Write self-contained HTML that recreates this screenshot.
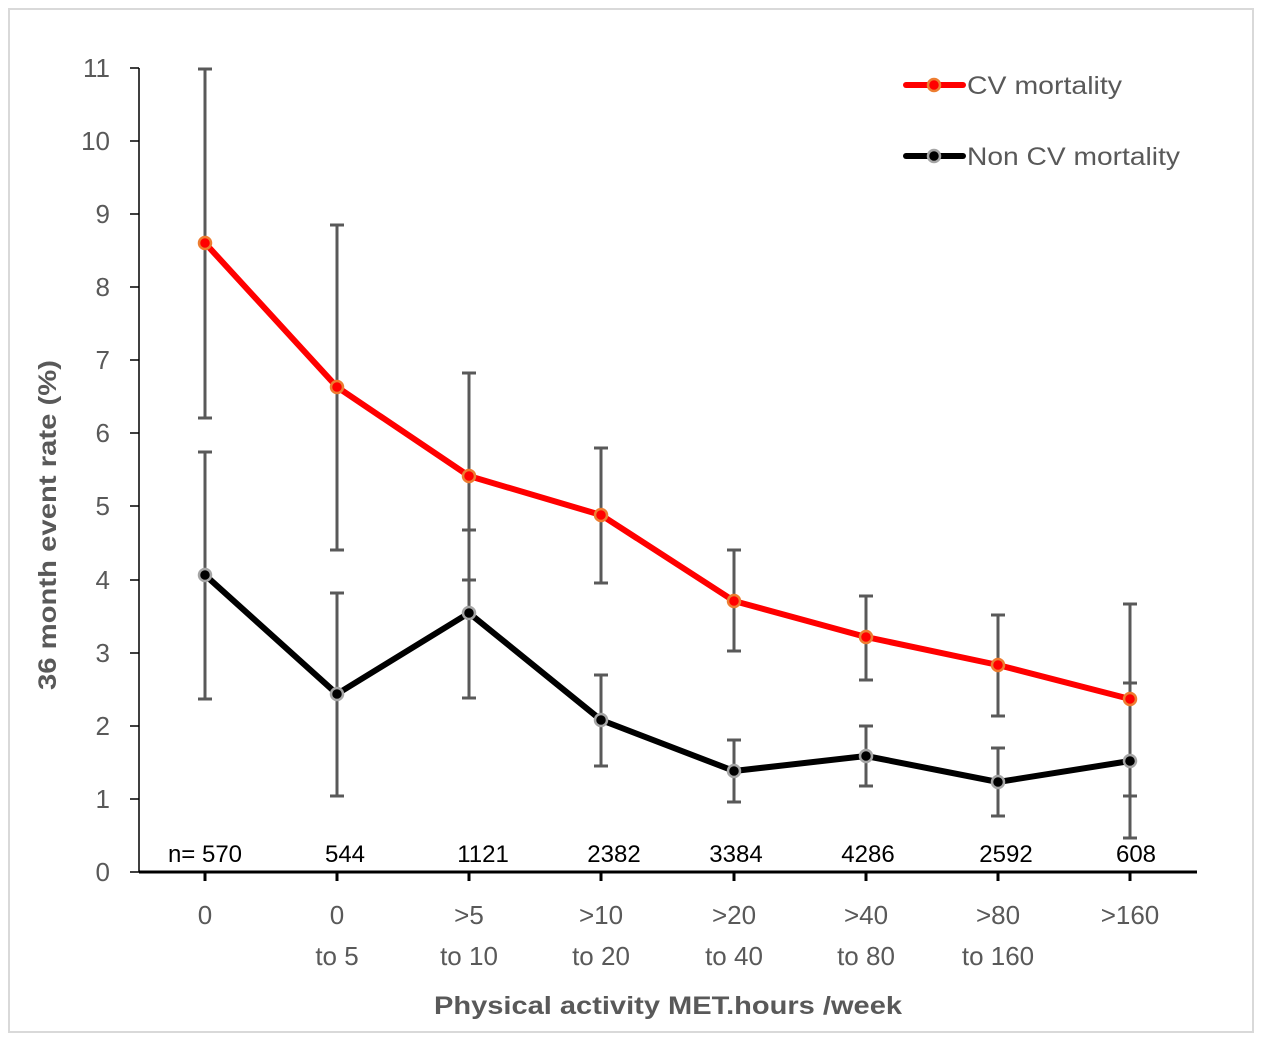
<!DOCTYPE html>
<html><head><meta charset="utf-8"><style>body{margin:0;background:#fff}svg{display:block}text{font-family:"Liberation Sans",sans-serif}</style></head>
<body>
<svg width="1263" height="1043" viewBox="0 0 1263 1043" xmlns="http://www.w3.org/2000/svg">
<rect x="9" y="9" width="1244" height="1023" fill="#fff" stroke="#d9d9d9" stroke-width="2"/>
<g stroke="#000" stroke-width="1.5">
<line x1="139" y1="68" x2="139" y2="872"/>
<line x1="130" y1="68" x2="139" y2="68"/><line x1="130" y1="141" x2="139" y2="141"/><line x1="130" y1="214" x2="139" y2="214"/><line x1="130" y1="287" x2="139" y2="287"/><line x1="130" y1="360" x2="139" y2="360"/><line x1="130" y1="433" x2="139" y2="433"/><line x1="130" y1="506" x2="139" y2="506"/><line x1="130" y1="580" x2="139" y2="580"/><line x1="130" y1="653" x2="139" y2="653"/><line x1="130" y1="726" x2="139" y2="726"/><line x1="130" y1="799" x2="139" y2="799"/><line x1="130" y1="872" x2="139" y2="872"/>
</g>
<line x1="139" y1="872" x2="1197" y2="872" stroke="#000" stroke-width="3"/>
<g stroke="#000" stroke-width="3">
<line x1="205" y1="872" x2="205" y2="881"/><line x1="337" y1="872" x2="337" y2="881"/><line x1="469" y1="872" x2="469" y2="881"/><line x1="601" y1="872" x2="601" y2="881"/><line x1="734" y1="872" x2="734" y2="881"/><line x1="866" y1="872" x2="866" y2="881"/><line x1="998" y1="872" x2="998" y2="881"/><line x1="1130" y1="872" x2="1130" y2="881"/>
</g>
<g fill="#595959" font-size="26" text-anchor="end">
<text x="110" y="77">11</text><text x="110" y="150">10</text><text x="110" y="223">9</text><text x="110" y="296">8</text><text x="110" y="369">7</text><text x="110" y="442">6</text><text x="110" y="515">5</text><text x="110" y="589">4</text><text x="110" y="662">3</text><text x="110" y="735">2</text><text x="110" y="808">1</text><text x="110" y="881">0</text>
</g>
<text transform="translate(56,525) rotate(-90)" fill="#595959" font-size="25" font-weight="bold" text-anchor="middle" textLength="330" lengthAdjust="spacingAndGlyphs">36 month event rate (%)</text>
<g fill="#595959" font-size="26" text-anchor="middle">
<text x="205" y="924">0</text>
<text x="337" y="924">0</text><text x="337" y="965">to 5</text>
<text x="469" y="924">&gt;5</text><text x="469" y="965">to 10</text>
<text x="601" y="924">&gt;10</text><text x="601" y="965">to 20</text>
<text x="734" y="924">&gt;20</text><text x="734" y="965">to 40</text>
<text x="866" y="924">&gt;40</text><text x="866" y="965">to 80</text>
<text x="998" y="924">&gt;80</text><text x="998" y="965">to 160</text>
<text x="1130" y="924">&gt;160</text>
</g>
<text x="668" y="1014" fill="#595959" font-size="25" font-weight="bold" text-anchor="middle" textLength="468" lengthAdjust="spacingAndGlyphs">Physical activity MET.hours /week</text>
<g fill="#000" font-size="24" text-anchor="middle">
<text x="205" y="862">n= 570</text><text x="345" y="862">544</text><text x="483" y="862">1121</text><text x="614" y="862">2382</text><text x="736" y="862">3384</text><text x="868" y="862">4286</text><text x="1006" y="862">2592</text><text x="1136" y="862">608</text>
</g>
<g stroke="#595959" stroke-width="3" fill="none">
<path d="M205 69V418M198 69H212M198 418H212"/>
<path d="M337 225V550M330 225H344M330 550H344"/>
<path d="M469 373V580M462 373H476M462 580H476"/>
<path d="M601 448V583M594 448H608M594 583H608"/>
<path d="M734 550V651M727 550H741M727 651H741"/>
<path d="M866 596V680M859 596H873M859 680H873"/>
<path d="M998 615V716M991 615H1005M991 716H1005"/>
<path d="M1130 604V796M1123 604H1137M1123 796H1137"/>
<path d="M205 452V699M198 452H212M198 699H212"/>
<path d="M337 593V796M330 593H344M330 796H344"/>
<path d="M469 530V698M462 530H476M462 698H476"/>
<path d="M601 675V766M594 675H608M594 766H608"/>
<path d="M734 740V802M727 740H741M727 802H741"/>
<path d="M866 726V786M859 726H873M859 786H873"/>
<path d="M998 748V816M991 748H1005M991 816H1005"/>
<path d="M1130 683V838M1123 683H1137M1123 838H1137"/>
</g>
<polyline points="205,243 337,387 469,476 601,515 734,601 866,637 998,665 1130,699" fill="none" stroke="#ff0000" stroke-width="6" stroke-linejoin="round"/>
<polyline points="205,575 337,694 469,613 601,720 734,771 866,756 998,782 1130,761" fill="none" stroke="#000" stroke-width="6" stroke-linejoin="round"/>
<g fill="#ff0000" stroke="#ed7d31" stroke-width="2.5">
<circle cx="205" cy="243" r="6"/><circle cx="337" cy="387" r="6"/><circle cx="469" cy="476" r="6"/><circle cx="601" cy="515" r="6"/><circle cx="734" cy="601" r="6"/><circle cx="866" cy="637" r="6"/><circle cx="998" cy="665" r="6"/><circle cx="1130" cy="699" r="6"/>
</g>
<g fill="#000" stroke="#a5a5a5" stroke-width="2.5">
<circle cx="205" cy="575" r="6"/><circle cx="337" cy="694" r="6"/><circle cx="469" cy="613" r="6"/><circle cx="601" cy="720" r="6"/><circle cx="734" cy="771" r="6"/><circle cx="866" cy="756" r="6"/><circle cx="998" cy="782" r="6"/><circle cx="1130" cy="761" r="6"/>
</g>
<line x1="906" y1="85" x2="963" y2="85" stroke="#ff0000" stroke-width="6" stroke-linecap="round"/>
<circle cx="934" cy="85" r="6" fill="#ff0000" stroke="#ed7d31" stroke-width="2.5"/>
<text x="967" y="94" fill="#595959" font-size="25" textLength="155" lengthAdjust="spacingAndGlyphs">CV mortality</text>
<line x1="906" y1="156" x2="963" y2="156" stroke="#000" stroke-width="6" stroke-linecap="round"/>
<circle cx="934" cy="156" r="6" fill="#000" stroke="#a5a5a5" stroke-width="2.5"/>
<text x="967" y="165" fill="#595959" font-size="25" textLength="213" lengthAdjust="spacingAndGlyphs">Non CV mortality</text>
</svg>
</body></html>
